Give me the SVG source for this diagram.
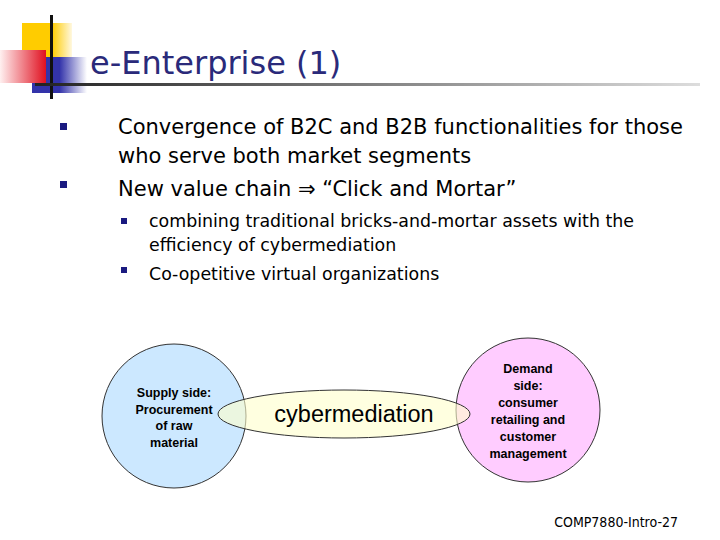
<svg xmlns="http://www.w3.org/2000/svg" width="720" height="540" viewBox="0 0 720 540">
<defs>
<linearGradient id="ul" x1="0" x2="1"><stop offset="0" stop-color="#222"/><stop offset="1" stop-color="#ddd"/></linearGradient>
<linearGradient id="red" x1="1" x2="0"><stop offset="0" stop-color="#e01020"/><stop offset="1" stop-color="#fff0f0"/></linearGradient>
<linearGradient id="yel" x1="0" x2="1"><stop offset="0.6" stop-color="#ffcc00"/><stop offset="1" stop-color="#fff8e0"/></linearGradient>
<linearGradient id="blu" x1="0" x2="1"><stop offset="0.5" stop-color="#3333aa"/><stop offset="1" stop-color="#ffffff"/></linearGradient>
<style>
text{font-family:"DejaVu Sans","Liberation Sans",sans-serif;}
.b{font-size:21px;fill:#000}
.s{font-size:17.4px;fill:#000}
.n{font-size:12.5px;font-weight:bold;fill:#000;text-anchor:middle;font-family:"Liberation Sans",Arial,sans-serif}
.bl{fill:#1a1a80}
</style>
</defs>
<rect width="720" height="540" fill="#fff"/>
<g id="logo">
<rect x="22" y="23" width="50" height="36" fill="url(#yel)"/>
<rect x="32" y="57" width="55" height="36" fill="url(#blu)"/>
<rect x="0" y="50" width="46" height="33" fill="url(#red)"/>
<rect x="50" y="15" width="3" height="84" fill="#111"/>
<rect x="35" y="83" width="665" height="3" fill="url(#ul)"/>
</g>
<text x="90" y="74" style="font-size:32px;fill:#2a2a7a">e-Enterprise (1)</text>
<g id="bullets">
<rect class="bl" x="60" y="123" width="7" height="7"/>
<rect class="bl" x="60" y="181" width="7" height="7"/>
<rect class="bl" x="121" y="218" width="6" height="6"/>
<rect class="bl" x="121" y="267" width="6" height="6"/>
<text class="b" x="118" y="134">Convergence of B2C and B2B functionalities for those</text>
<text class="b" x="118" y="163">who serve both market segments</text>
<text class="b" x="118" y="196">New value chain ⇒ “Click and Mortar”</text>
<text class="s" x="149" y="227">combining traditional bricks-and-mortar assets with the</text>
<text class="s" x="149" y="251">efficiency of cybermediation</text>
<text class="s" x="149" y="280">Co-opetitive virtual organizations</text>
</g>
<g id="supply">
<circle cx="174" cy="416" r="72" fill="#cce8ff" stroke="#333" stroke-width="1"/>
<text class="n" x="174" y="397">Supply side:</text>
<text class="n" x="174" y="414">Procurement</text>
<text class="n" x="174" y="430">of raw</text>
<text class="n" x="174" y="447">material</text>
</g>
<g id="demand">
<circle cx="528" cy="410" r="72" fill="#ffccff" stroke="#333" stroke-width="1"/>
<text class="n" x="528" y="373">Demand</text>
<text class="n" x="528" y="390">side:</text>
<text class="n" x="528" y="407">consumer</text>
<text class="n" x="528" y="424">retailing and</text>
<text class="n" x="528" y="441">customer</text>
<text class="n" x="528" y="458">management</text>
</g>
<g id="cyber">
<ellipse cx="344" cy="414" rx="126" ry="24" fill="#ffffcc" fill-opacity="0.6" stroke="#333" stroke-width="1"/>
<text x="354" y="422" style="font-size:23.5px;text-anchor:middle;font-family:'Liberation Sans',Arial,sans-serif">cybermediation</text>
</g>
<g id="connectors"></g>
<text x="678" y="527" style="font-size:14px;text-anchor:end;font-family:'DejaVu Sans Condensed','DejaVu Sans',sans-serif">COMP7880-Intro-27</text>
</svg>
